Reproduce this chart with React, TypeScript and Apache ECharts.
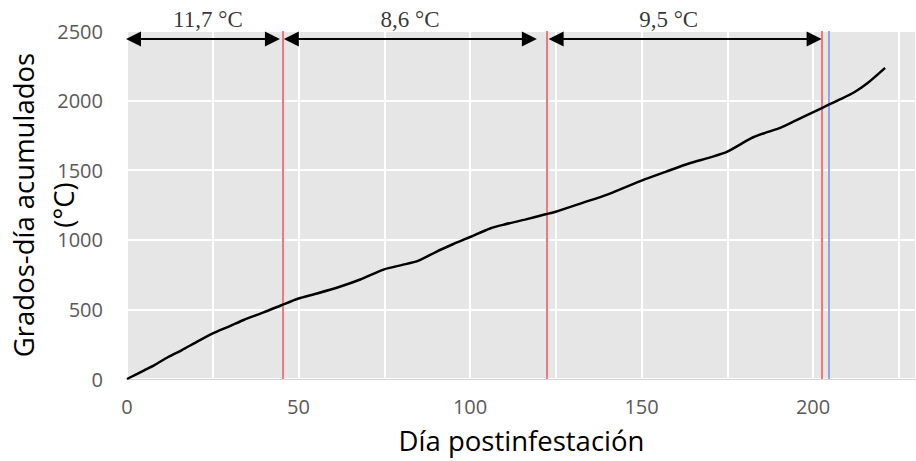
import React, { useEffect, useRef } from "react";
import * as echarts from "echarts";

// Cumulative degree-days curve
const days = [0, 5, 8, 12, 16, 20, 25, 30, 34, 40, 45, 50, 55, 62, 68, 75, 80, 85, 90, 95, 100, 106, 110, 116, 122, 125, 133, 140, 145, 150, 157, 164, 170, 175, 182, 186, 190, 195, 199, 203, 208, 212, 216, 221];
const gdd = [0, 62, 100, 158, 208, 262, 328, 380, 424, 480, 530, 578, 612, 663, 715, 788, 818, 850, 912, 968, 1020, 1083, 1110, 1145, 1183, 1202, 1267, 1325, 1375, 1425, 1488, 1550, 1592, 1633, 1730, 1768, 1800, 1858, 1905, 1952, 2010, 2060, 2128, 2235];

// Vertical reference lines
const redLines = [45.3, 122.4, 202.5];
const blueLines = [204.7];

// Double arrows (start day, end day) and their height
const arrowStarts = [1.9, 47.9, 125.1];
const arrowEnds = [42.4, 117.3, 200.3];
const arrowLevel = 2443;

// Period labels
const periodLabels = ["11,7 °C", "8,6 °C", "9,5 °C"];
const labelDays = [23.6, 82.5, 157.9];
const labelLevel = 2586;

// Axis settings
const xMax = 230;
const xStep = 25;
const yMax = 2500;
const yStep = 500;

export default function App() {
  const ref = useRef<HTMLDivElement>(null);
  useEffect(() => {
    if (!ref.current) return;
    const chart = echarts.init(ref.current, null, { renderer: "svg" });
    const red = "#f4777a";
    const blue = "#8eaadb";
    chart.setOption({
      animation: false,
      grid: {
        left: 127,
        right: 0,
        top: 31,
        bottom: 82,
        show: true,
        backgroundColor: "#e6e6e6",
        borderWidth: 0,
        containLabel: false,
        outerBoundsMode: "none",
      },
      xAxis: {
        type: "value",
        min: 0,
        max: xMax,
        interval: xStep,
        name: "Día postinfestación",
        nameLocation: "middle",
        nameGap: 47,
        nameMoveOverlap: false,
        nameTextStyle: { fontFamily: "Open Sans", fontSize: 27.5, color: "#000" },
        axisLine: { show: true, lineStyle: { color: "#d4d4d4", width: 1 } },
        axisTick: { show: false },
        axisLabel: {
          margin: 17,
          fontFamily: "Open Sans",
          fontSize: 20,
          color: "#595959",
          formatter: (v: number) => (v % 50 === 0 && v <= 200 ? String(v) : ""),
        },
        splitLine: { show: true, lineStyle: { color: "#ffffff", width: 2 } },
      },
      yAxis: {
        type: "value",
        min: 0,
        max: yMax,
        interval: yStep,
        name: "Grados-día acumulados\n(°C)",
        nameLocation: "middle",
        nameGap: 44,
        nameMoveOverlap: false,
        nameTextStyle: { fontFamily: "Open Sans", fontSize: 27.5, color: "#000", lineHeight: 40 },
        axisLine: { show: false },
        axisTick: { show: false },
        axisLabel: {
          margin: 24,
          fontFamily: "Open Sans",
          fontSize: 20,
          color: "#595959",
          formatter: (v: number) => String(v),
        },
        splitLine: { show: true, lineStyle: { color: "#ffffff", width: 2 } },
      },
      series: [
        {
          type: "line",
          data: days.map((d, i) => [d, gdd[i]]),
          showSymbol: false,
          symbol: "none",
          smooth: 0.25,
          lineStyle: { color: "#000", width: 2.5 },
          z: 5,
          markLine: {
            silent: true,
            symbol: "none",
            label: { show: false },
            animation: false,
            data: [
              ...redLines.map((x) => ({ xAxis: x, lineStyle: { color: red, width: 2, type: "solid" } })),
              ...blueLines.map((x) => ({ xAxis: x, lineStyle: { color: blue, width: 2, type: "solid" } })),
            ],
          },
        },
        {
          type: "line",
          data: [],
          markLine: {
            silent: true,
            symbol: ["triangle", "triangle"],
            symbolSize: [15, 15],
            label: { show: false },
            animation: false,
            lineStyle: { color: "#000", width: 2, type: "solid" },
            data: arrowStarts.map((s, i) => [
              { coord: [s, arrowLevel] },
              { coord: [arrowEnds[i], arrowLevel] },
            ]),
          },
          z: 6,
        },
        {
          type: "scatter",
          clip: false,
          symbolSize: 0,
          silent: true,
          data: labelDays.map((d, i) => [d, labelLevel, periodLabels[i]]),
          label: {
            show: true,
            position: "inside",
            formatter: (p: any) => p.value[2],
            fontFamily: "Liberation Serif",
            fontSize: 23,
            color: "#000",
          },
          z: 7,
        },
      ],
    });
    return () => chart.dispose();
  }, []);
  return (
    <div
      ref={ref}
      style={{ position: "fixed", left: 0, top: 0, width: 916, height: 461, background: "#fff" }}
    />
  );
}
